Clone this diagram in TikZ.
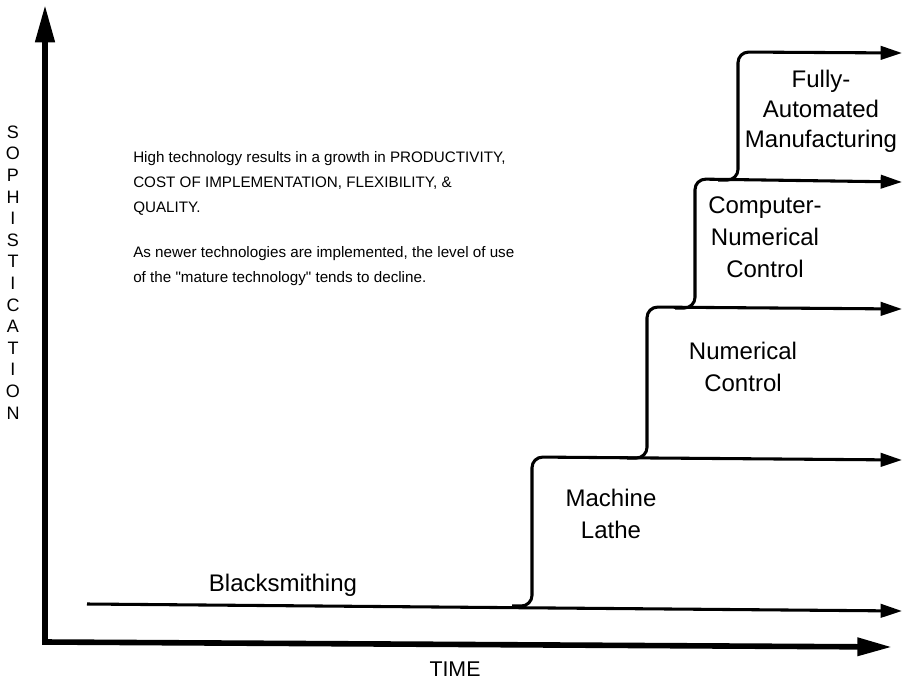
\documentclass[tikz,border=0pt]{standalone}
\usepackage{fontspec}
\setmainfont{Liberation Sans}[Ligatures=TeXOff]
\usetikzlibrary{arrows.meta}
\begin{document}
\begin{tikzpicture}[x=0.75pt,y=-0.75pt,
  level/.style={line width=2.3pt, rounded corners=8pt, line join=round,
    -{Triangle[length=16pt,width=10pt]}},
  axis/.style={line width=4.2pt,
    {Triangle[length=28pt,width=14pt]}-{Triangle[length=26pt,width=13pt]}},
  stage/.style={font=\fontsize{18}{24}\selectfont, align=center, inner sep=0pt},
  note/.style={font=\fontsize{11.4}{18.75}\selectfont, align=left, anchor=base west, inner sep=0pt},
  axislabel/.style={font=\fontsize{13.5}{16.2}\selectfont, align=center, inner sep=0pt}]
\useasboundingbox (0,0) rectangle (903,682);

% axes
\coordinate (ytop) at (45,5);
\coordinate (origin) at (45,642);
\coordinate (xend) at (892,647);
\draw[axis] (ytop) -- (origin) -- (xend);

\node[axislabel] (ylabel) at (13,272.5)
  {S\\O\\P\\H\\I\\S\\T\\I\\C\\A\\T\\I\\O\\N};
\node[axislabel, font=\fontsize{16}{19}\selectfont] (xlabel) at (455,669) {TIME};

% levels of technology
\coordinate (b0) at (87,604);
\coordinate (b1) at (902,611);
\draw[level] (b0) -- (b1);

\coordinate (m0) at (512,606);
\coordinate (m1) at (532,606);
\coordinate (m2) at (532,457);
\coordinate (m3) at (902,460);
\draw[level] (m0) -- (m1) -- (m2) -- (m3);

\coordinate (n0) at (627,458);
\coordinate (n1) at (647,458);
\coordinate (n2) at (647,307);
\coordinate (n3) at (902,309);
\draw[level] (n0) -- (n1) -- (n2) -- (n3);

\coordinate (c0) at (675,308);
\coordinate (c1) at (695,308);
\coordinate (c2) at (695,179);
\coordinate (c3) at (902,182);
\draw[level] (c0) -- (c1) -- (c2) -- (c3);

\coordinate (f0) at (718,180);
\coordinate (f1) at (738,180);
\coordinate (f2) at (738,52);
\coordinate (f3) at (902,53);
\draw[level] (f0) -- (f1) -- (f2) -- (f3);

% stage names
\node[stage] (blacksmith) at (283,585) {Blacksmithing};
\node[stage] (lathe) at (611,514) {Machine\\Lathe};
\node[stage] (nc) at (743,367) {Numerical\\Control};
\node[stage] (cnc) at (765,237) {Computer-\\Numerical\\Control};
\node[stage, font=\fontsize{18}{22.5}\selectfont] (fam) at (821,111) {Fully-\\Automated\\Manufacturing};

% remarks (anchored at the baseline of their last line)
\node[note] (note1) at (133,212.5)
  {High technology results in a growth in PRODUCTIVITY,\\
   COST OF IMPLEMENTATION, FLEXIBILITY, \&\\
   QUALITY.};
\node[note] (note2) at (133,282.5)
  {As newer technologies are implemented, the level of use\\
   of the "mature technology" tends to decline.};
\end{tikzpicture}
\end{document}
